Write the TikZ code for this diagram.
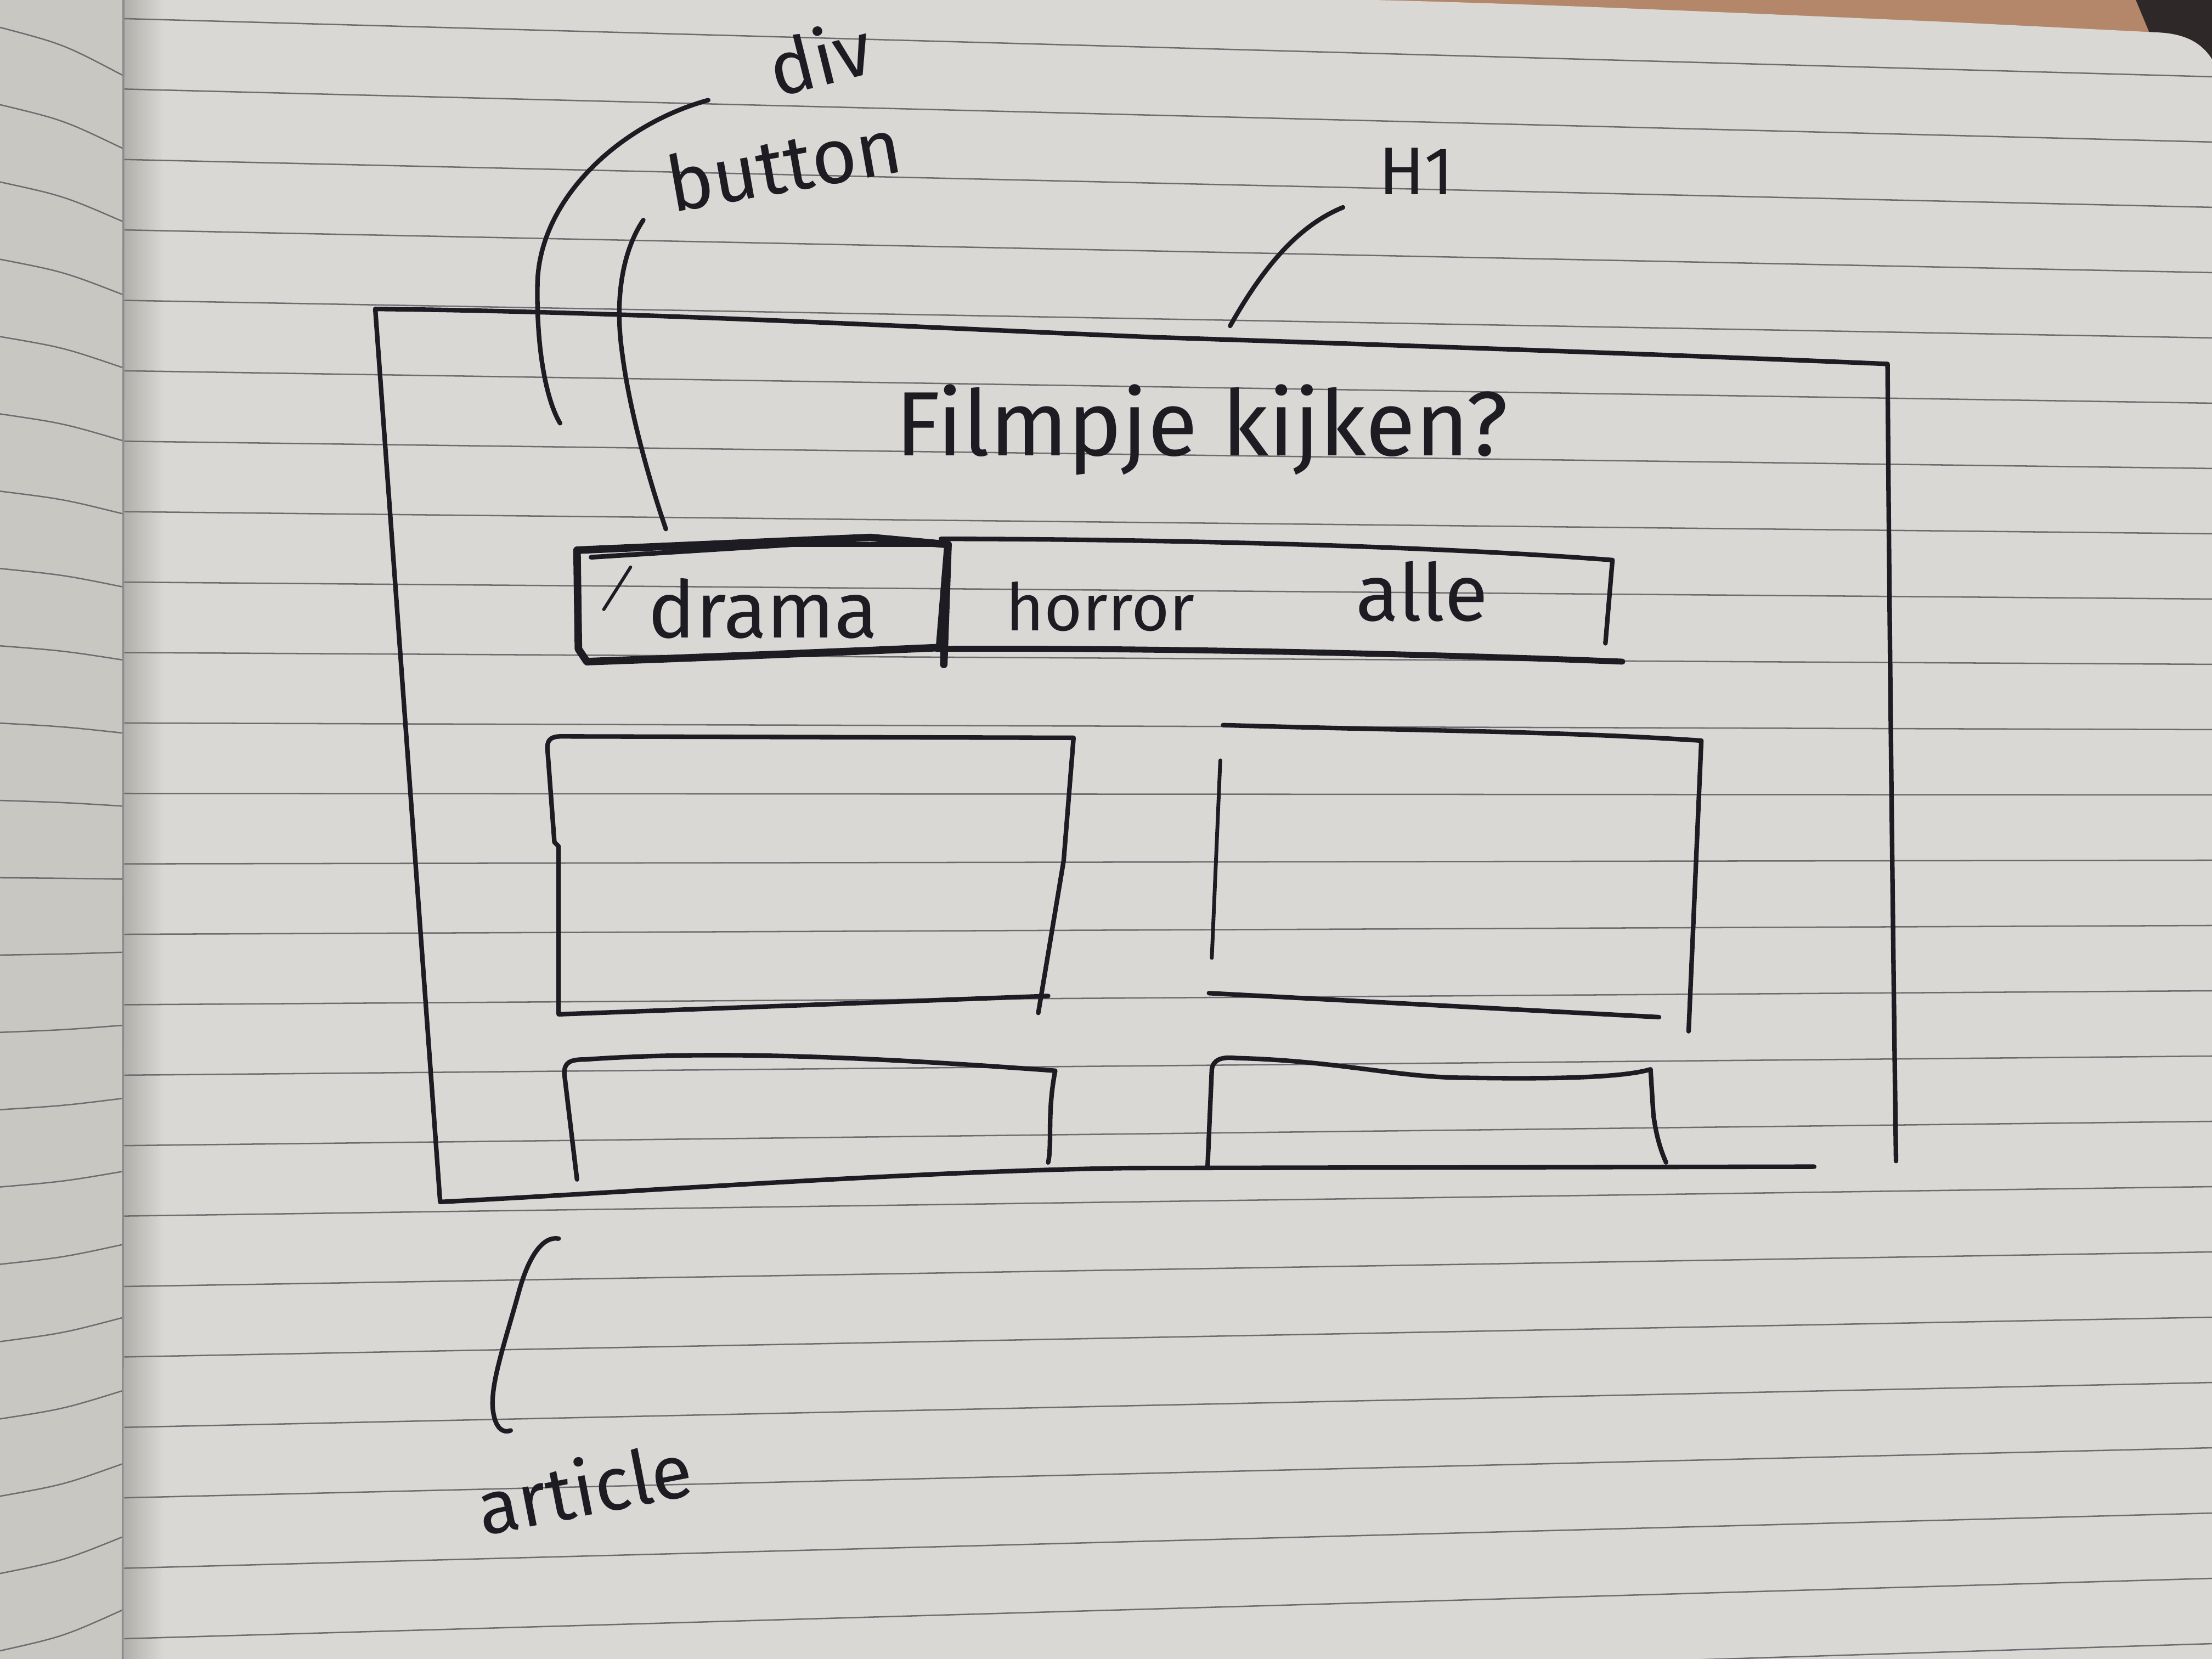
\documentclass[tikz,border=0pt]{standalone}
\usepackage{fontspec}
\setmainfont{Fira Sans}
\definecolor{paper}{HTML}{D9D8D4}
\definecolor{paperleft}{HTML}{C9C7C2}
\definecolor{rulegray}{HTML}{6F6C70}
\definecolor{ink}{HTML}{1D1C23}
\definecolor{wood}{HTML}{B4876A}
\definecolor{darkbg}{HTML}{2E2928}
\begin{document}
\begin{tikzpicture}[x=0.025cm,y=-0.025cm,
  pen/.style={draw=ink,line width=2.3pt,line cap=round,line join=round},
  heavy/.style={draw=ink,line width=3.8pt,line cap=round,line join=round},
  fine/.style={draw=ink,line width=1.6pt,line cap=round},
  hand/.style={text=ink,inner sep=0pt,anchor=base},
  ruling/.style={draw=rulegray,line width=0.7pt}]
\useasboundingbox (0,0) rectangle (1568,1176);

% table and shadow behind the notebook
\fill[wood] (0,0) rectangle (1568,1176);
\fill[darkbg] (1514,0) -- (1568,0) -- (1568,60) -- (1524,24) -- cycle;

% left page
\fill[paperleft] (0,0) rectangle (88,1176);
\foreach \k in {0,...,21}{
  \pgfmathsetmacro{\ya}{19.4+54.8*\k}
  \pgfmathsetmacro{\yb}{19.4+54.8*\k+34-3*\k}
  \draw[ruling] (0,\ya) .. controls (45,{\ya+0.35*(\yb-\ya)}) .. (87,\yb);
}

% right page
\def\pageoutline{(88,0) -- (974,0) .. controls (1100,3) and (1250,10) .. (1379,15.5)
  -- (1530,23) .. controls (1550,24) and (1561,31) .. (1568,42) -- (1568,1176) -- (88,1176) -- cycle}
\fill[paper] \pageoutline;
\shade[left color=paperleft!88!black, right color=paper] (88,0) rectangle (116,1176);
\begin{scope}
  \clip \pageoutline;
  \foreach \k in {0,...,24}{
    \draw[ruling] (88,{13.2+49.93*\k}) -- (1568,{54.4+46.28*\k});
  }
\end{scope}
\draw[black!45,line width=1pt] (87.5,0) -- (87,1176);

% outer page container
\draw[pen] (1344,823) .. controls (1341,600) and (1339,400) .. (1338,258)
  .. controls (1200,252) and (1000,245) .. (817,239)
  .. controls (650,232) and (450,221) .. (266,219)
  -- (312,852) .. controls (450,845) and (650,830) .. (800,828) -- (1286,827);

% heading
\node[hand,font=\fontsize{46}{50}\selectfont] (title) at (852,323) {Filmpje kijken?};

% filter bar with the active button
\draw[heavy] (416,469) .. controls (500,466) and (600,462) .. (666,459)
  -- (672,386) -- (617,381) -- (409,390) -- (410,460) -- cycle;
\draw[fine,line width=2.4pt] (419,395) -- (562,386) -- (667,386);
\draw[heavy] (672,386) -- (669,471);
\draw[pen] (667,382) .. controls (800,382) and (1000,386) .. (1143,397) -- (1138,456);
\draw[pen,line width=3pt] (664,460) .. controls (800,459) and (1000,463) .. (1150,469);
\draw[fine] (428,432) -- (447,402);
\node[hand,font=\fontsize{40}{44}\selectfont] (drama) at (541,452) {drama};
\node[hand,font=\fontsize{33}{38}\selectfont] (horror) at (780,447) {horror};
\node[hand,font=\fontsize{40}{44}\selectfont] (alle) at (1008,440) {alle};

% article cards
\draw[pen] (743,706) -- (396,719) -- (396,600) -- (393,597) -- (388,530)
  .. controls (388,524) and (391,522) .. (398,522) -- (761,523)
  -- (754,610) -- (736,718);
\draw[pen] (867,514) .. controls (1000,518) and (1100,518) .. (1206,525) -- (1197,731);
\draw[pen,line width=1.9pt] (865,539) -- (859,679);
\draw[pen] (857,704) -- (1176,721);
\draw[pen] (409,836) -- (400,761) .. controls (400,753) and (404,751) .. (415,751)
  .. controls (500,745) and (600,748) .. (748,759)
  .. controls (742,790) and (746,810) .. (743,824);
\draw[pen] (856,827) -- (859,758) .. controls (860,751) and (866,749) .. (876,750)
  .. controls (950,752) and (990,764) .. (1040,764)
  .. controls (1100,765) and (1150,764) .. (1170,758)
  -- (1172,790) .. controls (1174,805) and (1177,815) .. (1181,824);

% annotation labels
\node[hand,font=\fontsize{38}{42}\selectfont,rotate=14] (divlabel) at (586,60) {div};
\node[hand,font=\fontsize{39}{44}\selectfont,rotate=10] (buttonlabel) at (559,136) {button};
\node[hand,font=\fontsize{34}{40}\selectfont] (hlabel) at (1004,138) {H1};
\node[hand,font=\fontsize{38}{44}\selectfont,rotate=11] (articlelabel) at (418,1074) {article};

% leader curves from the labels to the parts they name
\coordinate (divtail) at (502,71);
\coordinate (divhead) at (397,300);
\coordinate (buttontail) at (456,156);
\coordinate (buttonhead) at (472,375);
\coordinate (htail) at (952,147);
\coordinate (hhead) at (872,231);
\coordinate (articletail) at (396,878);
\coordinate (articlehead) at (362,1014);
\draw[pen] (divtail) .. controls (440,88) and (383,140) .. (381,200)
  .. controls (380,250) and (388,285) .. (divhead);
\draw[pen] (buttontail) .. controls (440,180) and (436,215) .. (441,250)
  .. controls (446,290) and (460,340) .. (buttonhead);
\draw[pen] (htail) .. controls (920,160) and (895,190) .. (hhead);
\draw[pen] (articletail) .. controls (385,876) and (375,890) .. (368,915)
  .. controls (357,955) and (346,985) .. (350,1003)
  .. controls (352,1013) and (357,1016) .. (articlehead);
\end{tikzpicture}
\end{document}
